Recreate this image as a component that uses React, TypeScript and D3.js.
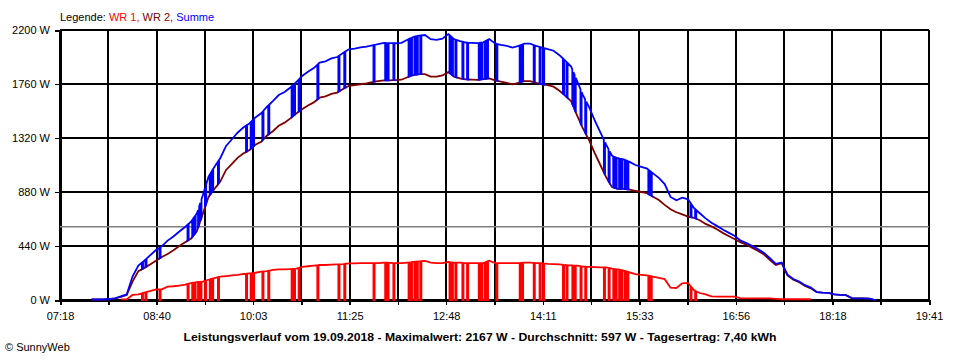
import React, { useEffect, useRef } from 'react';
import * as d3 from 'd3';

// Leistungsverlauf 19.09.2018, sampled every 5 minutes from 07:45
const firstSample = '07:45';
const sampleEveryMin = 5;

// WR 1 (W), null = not reporting
const wr1Values: (number | null)[] = [
  null, null, null, // 07:45..07:55
  null, null, 5, 5, 41, 45, 60, 73, 87, 87, 109, 112, // 08
  118, 125, 138, 145, 150, 165, 179, 190, 195, 200, 205, 212, // 09
  217, 222, 231, 235, 245, 250, 250, 252, 255, 270, 275, 280, // 10
  285, 285, 288, 290, 293, 298, 299, 300, 300, 300, 300, 305, // 11
  303, 300, 300, 305, 310, 315, 318, 305, 300, 300, 310, 305, // 12
  305, 300, 300, 300, 300, 320, 300, 300, 300, 300, 300, 305, // 13
  305, 300, 300, 295, 293, 290, 285, 282, 280, 272, 270, 268, // 14
  266, 265, 255, 250, 240, 225, 210, 205, 200, 190, 180, 170, // 15
  100, 98, 136, 140, 80, 57, 45, 30, 27, 27, 27, 27, // 16
  14, 14, 14, 14, 14, 14, 10, 6, 6, 6, 6, 6, // 17
  6, null, null, null, null, null, null, null, null, null, null, null, // 18
];

// WR 2 (W)
const wr2Values: number[] = [
  4, 4, 4,
  8, 14, 25, 40, 150, 235, 260, 290, 320, 350, 375, 405,
  440, 470, 500, 560, 700, 840, 905, 965, 1060, 1110, 1160, 1195,
  1222, 1265, 1290, 1340, 1375, 1420, 1445, 1480, 1520, 1555, 1585, 1610,
  1650, 1660, 1680, 1690, 1720, 1745, 1750, 1758, 1765, 1775, 1784, 1790,
  1790, 1792, 1795, 1815, 1833, 1840, 1841, 1820, 1820, 1830, 1857, 1820,
  1805, 1798, 1795, 1793, 1800, 1806, 1790, 1779, 1770, 1757, 1770, 1784,
  1784, 1770, 1757, 1750, 1738, 1705, 1665, 1620, 1507, 1400, 1310, 1200,
  1100, 1000, 920, 905, 905, 900, 890, 880, 870, 842, 815, 775,
  740, 715, 698, 680, 670, 650, 620, 600, 575, 545, 520, 495,
  470, 450, 425, 400, 370, 326, 285, 300, 200, 165, 145, 115,
  95, 65, 60, 58, 45, 41, 40, 16, 14, 14, 12, 0,
];

// minutes in which WR 1 reported 0 W (one-minute dropouts)
const wr1Dropouts = [
  '08:28', '08:31', '08:43',
  '09:07', '09:11', '09:13', '09:16', '09:18', '09:22', '09:26', '09:28', '09:33',
  '09:57', '10:01', '10:03', '10:11', '10:16',
  '10:36', '10:38', '10:42', '10:58',
  '11:16', '11:21', '11:46',
  '11:56', '11:58', '12:03',
  '12:16', '12:18', '12:21', '12:23', '12:26',
  '12:51', '12:53', '12:56',
  '13:02', '13:06',
  '13:16', '13:18', '13:21', '13:23',
  '13:31', '13:51', '13:53',
  '14:03', '14:08', '14:11',
  '14:28', '14:31', '14:36', '14:38', '14:43', '14:47',
  '15:03', '15:07', '15:11', '15:13', '15:16', '15:18', '15:21', '15:23',
  '15:41', '15:43',
  '16:17', '16:21',
];

const xTickLabels = ['07:18', '08:40', '10:03', '11:25', '12:48', '14:11', '15:33', '16:56', '18:18', '19:41'];
const yTicks = [0, 440, 880, 1320, 1760, 2200];
const averageW = 597;
const maximumW = 2167;
const dailyYield = '7,40';
const dateLabel = '19.09.2018';

const toMin = (s: string) => +s.slice(0, 2) * 60 + +s.slice(3, 5);

interface Pt { t: number; wr1: number | null; wr2: number; summe: number }

const WIDTH = 960;
const HEIGHT = 360;
const FONT = '"Liberation Sans", Arial, sans-serif';

export default function App() {
  const svgRef = useRef<SVGSVGElement>(null);

  useEffect(() => {
    if (!svgRef.current) return;
    const svg = d3.select(svgRef.current);
    svg.selectAll('*').remove();

    const margin = { top: 30, right: 31, bottom: 60, left: 60 };
    const innerWidth = WIDTH - margin.left - margin.right;
    const innerHeight = HEIGHT - margin.top - margin.bottom;

    // base samples
    const t0 = toMin(firstSample);
    const base = wr2Values.map((w2, i) => ({ t: t0 + i * sampleEveryMin, wr1: wr1Values[i], wr2: w2 }));

    // where the drawn line passes at minute t (for placing the dropout edges)
    const bisect = d3.bisector((b: { t: number }) => b.t).right;
    const lineAt = (key: 'wr1' | 'wr2', t: number): number | null => {
      const i = Math.max(0, bisect(base, t) - 1);
      const a = base[i];
      const b = base[Math.min(i + 1, base.length - 1)];
      const va = a[key];
      const vb = b[key];
      if (va == null) return null;
      if (vb == null || b.t === a.t) return va;
      return d3.interpolateNumber(va, vb)((t - a.t) / (b.t - a.t));
    };

    type Ev = { t: number; seq: number; wr1: number | null; wr2: number };
    const events: Ev[] = base.map(b => ({ t: b.t, seq: 0, wr1: b.wr1, wr2: b.wr2 }));
    wr1Dropouts.map(toMin).forEach(d => {
      const a1 = lineAt('wr1', d);
      if (a1 == null) return;
      const a2 = lineAt('wr2', d) as number;
      const b1 = lineAt('wr1', d + 1) ?? 0;
      const b2 = lineAt('wr2', d + 1) as number;
      events.push({ t: d, seq: 1, wr1: a1, wr2: a2 });
      events.push({ t: d, seq: 2, wr1: 0, wr2: a2 });
      events.push({ t: d + 1, seq: 1, wr1: 0, wr2: b2 });
      events.push({ t: d + 1, seq: 2, wr1: b1, wr2: b2 });
    });
    events.sort((p, q) => p.t - q.t || p.seq - q.seq);
    // Summe = WR 1 + WR 2
    const points: Pt[] = events.map(e => ({ t: e.t, wr1: e.wr1, wr2: e.wr2, summe: (e.wr1 ?? 0) + e.wr2 }));

    const xStart = toMin(xTickLabels[0]);
    const xEnd = toMin(xTickLabels[xTickLabels.length - 1]);
    const x = d3.scaleLinear().domain([xStart, xEnd]).range([0, innerWidth]);
    const y = d3.scaleLinear().domain([0, 2200]).range([innerHeight, 0]);
    const xTickValues = d3.range(19).map(i => xStart + (i * (xEnd - xStart)) / 18);

    svg.append('rect').attr('width', WIDTH).attr('height', HEIGHT).attr('fill', '#fff');

    const g = svg.append('g').attr('transform', `translate(${margin.left},${margin.top})`);

    // grid
    g.append('g')
      .selectAll('line')
      .data(xTickValues)
      .join('line')
      .attr('x1', d => x(d)).attr('x2', d => x(d))
      .attr('y1', 0).attr('y2', innerHeight)
      .attr('stroke', '#000').attr('stroke-width', 2).attr('shape-rendering', 'crispEdges');
    g.append('g')
      .selectAll('line')
      .data(yTicks)
      .join('line')
      .attr('x1', 0).attr('x2', innerWidth)
      .attr('y1', d => y(d)).attr('y2', d => y(d))
      .attr('stroke', '#000').attr('stroke-width', 2).attr('shape-rendering', 'crispEdges');

    // axes
    const xAxis = g.append('g')
      .attr('transform', `translate(0,${innerHeight})`)
      .call(
        d3.axisBottom(x)
          .tickValues(xTickValues)
          .tickSize(5)
          .tickPadding(7)
          .tickFormat((_, i) => (i % 2 === 0 ? xTickLabels[i / 2] : ''))
      );
    const yAxis = g.append('g').call(
      d3.axisLeft(y).tickValues(yTicks).tickSize(5).tickPadding(5).tickFormat(d => `${d} W`)
    );
    [xAxis, yAxis].forEach(ax => {
      ax.attr('font-family', FONT).attr('font-size', 11);
      ax.select('.domain').attr('stroke-width', 2).attr('shape-rendering', 'crispEdges');
      ax.selectAll('.tick line').attr('stroke-width', 1.5).attr('shape-rendering', 'crispEdges');
      ax.selectAll('.tick text').attr('fill', '#000');
    });

    // average
    g.append('line')
      .attr('x1', 0).attr('x2', innerWidth)
      .attr('y1', y(averageW)).attr('y2', y(averageW))
      .attr('stroke', '#808080').attr('stroke-width', 1.5);

    const makeLine = (key: 'wr1' | 'wr2' | 'summe') =>
      d3.line<Pt>()
        .defined(d => d[key] != null)
        .x(d => x(d.t))
        .y(d => y(d[key] as number));

    const series = [
      { key: 'wr1' as const, color: '#ff0000' },
      { key: 'wr2' as const, color: '#800000' },
      { key: 'summe' as const, color: '#0000ff' },
    ];
    series.forEach(s => {
      g.append('path')
        .datum(points)
        .attr('fill', 'none')
        .attr('stroke', s.color)
        .attr('stroke-width', 1.8)
        .attr('stroke-linejoin', 'miter')
        .attr('d', makeLine(s.key));
    });

    // legend
    const legend = svg.append('text')
      .attr('x', 60).attr('y', 21)
      .attr('font-family', FONT).attr('font-size', 11);
    legend.append('tspan').attr('fill', '#000').text('Legende: ');
    legend.append('tspan').attr('fill', '#ff0000').text('WR 1, ');
    legend.append('tspan').attr('fill', '#800000').text('WR 2, ');
    legend.append('tspan').attr('fill', '#0000ff').text('Summe');

    // title line
    svg.append('text')
      .attr('x', 480).attr('y', 341)
      .attr('text-anchor', 'middle')
      .attr('font-family', FONT).attr('font-size', 11).attr('font-weight', 'bold')
      .attr('textLength', 593).attr('lengthAdjust', 'spacingAndGlyphs')
      .text(`Leistungsverlauf vom ${dateLabel} - Maximalwert: ${maximumW} W - Durchschnitt: ${averageW} W - Tagesertrag: ${dailyYield} kWh`);

    svg.append('text')
      .attr('x', 5).attr('y', 351)
      .attr('font-family', FONT).attr('font-size', 11)
      .text('© SunnyWeb');
  }, []);

  return (
    <svg
      ref={svgRef}
      width={WIDTH}
      height={HEIGHT}
      style={{ position: 'absolute', left: 0, top: 0, display: 'block' }}
    />
  );
}
